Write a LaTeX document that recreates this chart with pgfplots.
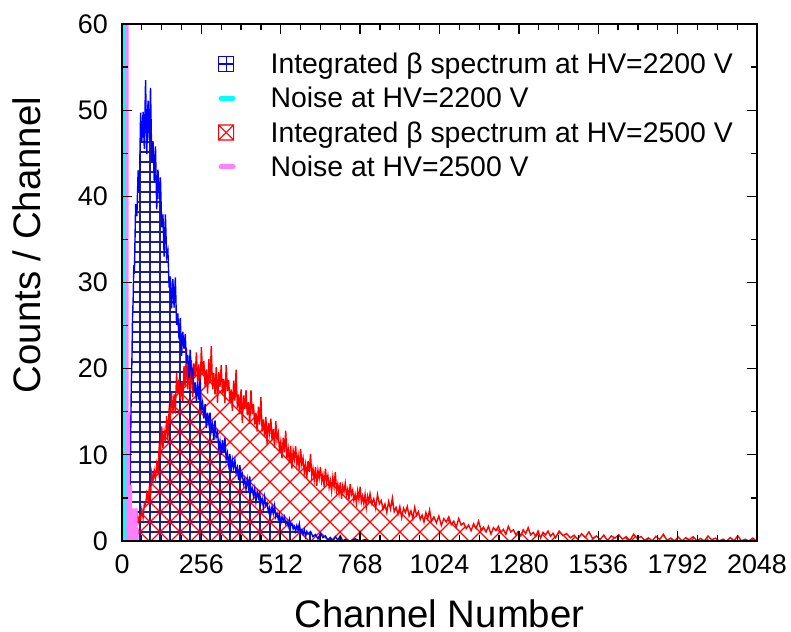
\documentclass[border=0pt]{standalone}
\usepackage{fontspec}
\setmainfont{Liberation Sans}
\usepackage{pgfplots}
\pgfplotsset{compat=1.18}
\usepackage{pgfplotstable}
\usetikzlibrary{patterns}
\definecolor{gridblue}{RGB}{30,30,140}
\definecolor{noisecyan}{RGB}{0,255,255}
\definecolor{noisepink}{RGB}{255,128,255}
\pgfdeclarepatternformonly{bgrid}{\pgfpoint{-1bp}{-1bp}}{\pgfpoint{11bp}{11bp}}{\pgfpoint{10bp}{10bp}}{%
  \pgfsetlinewidth{1.2bp}%
  \pgfpathmoveto{\pgfpoint{0bp}{0bp}}\pgfpathlineto{\pgfpoint{10.1bp}{0bp}}%
  \pgfpathmoveto{\pgfpoint{0bp}{0bp}}\pgfpathlineto{\pgfpoint{0bp}{10.1bp}}%
  \pgfusepath{stroke}}
\pgfdeclarepatternformonly{rcross}{\pgfpoint{-1bp}{-1bp}}{\pgfpoint{21bp}{21bp}}{\pgfpoint{20bp}{20bp}}{%
  \pgfsetlinewidth{1.1bp}%
  \pgfpathmoveto{\pgfpoint{0bp}{0bp}}\pgfpathlineto{\pgfpoint{20bp}{20bp}}%
  \pgfpathmoveto{\pgfpoint{0bp}{20bp}}\pgfpathlineto{\pgfpoint{20bp}{0bp}}%
  \pgfusepath{stroke}}

\pgfplotstableread{
c v
0 0
24 0
26 4
28 12
30 18
32 21
34 26
36 28
38 32
40 31
44 39.1
48 37.7
52 43.0
56 40.6
60 49.7
64 46.3
68 49.8
72 45.5
76 53.5
80 44.9
84 51.1
88 46.5
92 52.6
96 44.0
100 46.4
104 41.7
108 45.8
112 38.5
116 43.1
120 39.7
124 42.2
128 36.4
132 37.9
136 33.0
140 37.9
144 33.0
148 33.7
152 29.4
156 30.7
160 27.0
164 30.4
168 27.1
172 30.6
176 25.1
180 26.4
184 23.4
188 25.9
192 21.5
196 24.3
200 22.3
204 24.0
208 20.6
212 21.6
216 18.9
220 22.2
224 19.3
228 19.9
232 17.3
236 18.4
240 16.1
244 18.5
248 16.4
252 18.8
256 15.2
260 16.1
264 14.2
268 15.9
272 13.1
276 14.9
280 13.7
284 14.9
288 12.8
292 13.6
296 11.7
300 14.0
304 12.1
308 12.6
312 10.9
316 11.6
320 10.0
324 11.7
328 10.3
332 12.0
336 9.5
340 10.2
344 8.9
348 10.1
352 8.1
356 9.4
360 8.5
364 9.4
368 7.9
372 8.5
376 7.1
380 8.8
384 7.4
388 7.8
392 6.6
396 7.2
400 6.0
404 7.2
408 6.2
412 7.5
416 5.7
420 6.1
424 5.2
428 6.1
432 4.6
436 5.7
440 5.0
444 5.6
448 4.4
452 4.9
456 3.9
460 5.1
464 4.1
468 4.4
472 3.4
476 3.9
480 3.1
484 4.0
488 3.2
492 4.1
496 2.8
500 3.2
504 2.5
508 3.1
512 2.1
516 2.8
520 2.4
524 2.8
528 2.0
532 2.3
536 1.7
540 2.5
544 1.8
548 2.0
552 1.4
556 1.7
560 1.15
564 1.8
568 1.3
572 2.0
576 1.0
580 1.3
584 0.8
588 1.3
592 0.5
596 1.1
600 0.8
608 1.1
616 0.5
624 0.75
632 0.25
640 0.9
648 0.4
656 0.6
664 0.1
672 0.4
680 0.0
688 0.5
696 0.1
704 0.6
712 0.0
720 0.2
736 0.0
752 0.25
768 0
784 0.15
800 0
2048 0
}\bluedata

\pgfplotstableread{
c v
40 0
40 2.4
44 2.0
48 3.2
52 2.2
56 2.9
60 2.5
64 3.7
68 2.7
72 4.3
76 4.2
80 5.5
84 4.8
88 6.1
92 5.3
96 7.9
100 7.0
104 8.2
108 7.3
112 8.9
116 8.0
120 10.9
124 10.1
128 13.3
132 10.8
136 12.7
140 11.6
144 14.5
148 11.8
152 15.2
156 14.5
160 17.2
164 14.8
168 17.0
172 14.8
176 19.5
180 17.1
184 18.8
188 16.4
192 18.5
196 16.2
200 20.3
204 18.0
208 22.4
212 17.6
216 19.8
220 17.5
224 21.0
228 16.7
232 20.6
236 19.1
240 21.9
244 18.4
248 20.5
252 17.5
256 22.5
260 19.3
264 20.9
268 17.9
272 19.9
276 17.1
280 21.1
284 18.5
288 22.6
292 17.6
296 19.5
300 17.0
304 20.2
308 16.0
312 19.6
316 17.9
320 20.4
324 17.1
328 18.8
332 16.0
336 20.4
340 17.4
344 18.7
348 16.0
352 17.6
356 15.1
360 18.6
364 16.3
368 19.9
372 15.4
376 17.0
380 14.7
384 17.6
388 13.7
392 16.9
396 15.3
400 17.5
404 14.6
408 16.1
412 13.6
416 17.5
420 14.7
424 15.9
428 13.5
432 14.9
436 12.7
440 15.6
444 13.5
448 16.7
452 12.7
456 14.1
460 12.1
464 14.4
468 11.2
472 13.7
476 12.5
480 14.2
484 11.7
488 13.0
492 10.8
496 13.9
500 11.7
504 12.5
508 10.4
512 11.5
516 9.6
520 12.0
524 10.3
528 12.8
532 9.6
536 10.7
540 9.1
544 11.0
548 8.4
552 10.5
556 9.5
560 11.0
564 8.9
568 9.9
572 8.2
576 10.7
580 8.9
584 9.6
588 7.9
592 8.9
596 7.3
600 9.3
604 8.0
608 10.1
612 7.5
616 8.4
620 7.1
624 8.6
628 6.4
632 8.2
636 7.3
640 8.6
644 6.9
648 7.7
652 6.3
656 8.4
660 6.9
664 7.6
668 6.2
672 7.0
676 5.8
680 7.4
684 6.3
688 8.0
692 5.8
696 6.6
700 5.5
704 6.8
708 4.9
712 6.4
716 5.7
720 6.7
724 5.3
728 6.0
732 4.8
736 6.6
740 5.4
744 5.9
748 4.7
752 5.4
756 4.4
760 5.8
764 4.8
768 6.3
772 4.5
776 5.2
780 4.3
784 5.4
788 3.9
792 5.2
796 4.6
800 5.5
806 4.3
812 4.9
818 3.8
824 5.4
830 4.3
836 4.7
842 3.7
848 4.3
854 3.3
860 4.6
866 3.7
872 5.0
878 3.4
884 3.9
890 3.1
896 4.0
902 2.7
908 3.8
914 3.3
920 4.0
926 2.9
932 3.5
938 2.6
944 3.9
950 3.0
956 3.4
962 2.5
968 3.0
974 2.2
980 3.3
986 2.6
992 3.6
998 2.3
1006 2.8
1014 2.1
1022 2.9
1030 1.8
1038 2.6
1046 2.2
1054 2.8
1062 1.9
1070 2.3
1078 1.6
1086 2.6
1094 1.85
1102 2.1
1110 1.45
1118 1.85
1126 1.2
1134 2.0
1142 1.45
1150 2.3
1158 1.25
1166 1.6
1174 1.05
1182 1.7
1190 0.8
1198 1.55
1206 1.2
1214 1.7
1222 1.0
1230 1.35
1238 0.77
1246 1.7
1254 1.05
1262 1.3
1270 0.75
1278 1.1
1286 0.6
1294 1.3
1302 0.85
1310 1.55
1318 0.7
1326 1.0
1334 0.55
1342 1.15
1350 0.35
1358 1.0
1366 0.7
1374 1.15
1382 0.55
1390 0.9
1398 0.38
1410 1.15
1422 0.64
1434 0.86
1446 0.37
1458 0.67
1470 0.2
1482 0.84
1494 0.42
1506 1.05
1518 0.28
1530 0.59
1542 0.18
1554 0.69
1566 0.05
1578 0.59
1590 0.34
1602 0.72
1614 0.2
1626 0.5
1638 0.05
1650 0.78
1662 0.3
1674 0.52
1686 0.08
1698 0.37
1710 0.0
1722 0.55
1734 0.18
1746 0.78
1758 0.06
1770 0.34
1782 0.0
1794 0.46
1806 0.0
1818 0.38
1830 0.15
1842 0.5
1854 0.04
1866 0.3
1878 0.0
1890 0.58
1902 0.14
1914 0.34
1926 0.0
1938 0.21
1950 0.0
1962 0.39
1974 0.04
1986 0.6
1998 0.0
2010 0.21
2022 0.0
2034 0.34
2047 0.0
}\reddata

\begin{document}
\begin{tikzpicture}
\useasboundingbox (-122bp,-91bp) rectangle (669bp,541bp);
\begin{axis}[
  scale only axis,
  width=635bp, height=517bp,
  xmin=0, xmax=2048, ymin=0, ymax=60,
  xtick={0,256,...,2048},
  ytick={0,10,...,60},
  minor x tick num=3,
  minor y tick num=1,
  tick align=inside,
  major tick length=10bp,
  minor tick length=6bp,
  every tick/.style={black, line width=1.3bp},
  axis line style={black, line width=1.3bp},
  axis on top,
  /pgf/number format/assume math mode=true,
  /pgf/number format/1000 sep={},
  tick label style={font=\fontsize{27}{30}\selectfont, inner sep=0pt},
  xticklabel shift=14bp,
  yticklabel shift=14bp,
  xlabel={Channel Number},
  ylabel={Counts / Channel},
  label style={font=\fontsize{38.5}{44}\selectfont, inner sep=0pt},
  xlabel style={at={(axis description cs:0.5,-0.113)}, anchor=north},
  ylabel style={at={(axis description cs:-0.1276,0.5725)}, anchor=base, rotate=0},
  legend style={draw=none, fill=none, at={(axis description cs:0.1512,0.946)}, anchor=north west,
    inner sep=0pt, outer sep=0pt, row sep=10.2bp,
    font=\fontsize{28.5}{32}\selectfont,
    nodes={inner sep=1bp}},
  legend cell align=left,
]
% fills
\addplot[draw=none, pattern=bgrid, pattern color=gridblue, forget plot] table[x=c,y=v] {\bluedata} \closedcycle;
\addplot[draw=none, pattern=rcross, pattern color=red, forget plot] table[x=c,y=v] {\reddata} \closedcycle;
% lines
\addplot[red, line width=1.4bp, forget plot] table[x=c,y=v] {\reddata};
\addplot[blue, line width=1.4bp, forget plot] table[x=c,y=v] {\bluedata};
% noise
\addplot[draw=none, fill=noisepink, const plot, forget plot] coordinates {(7,0) (7,200) (21,15) (26,6.5) (33,3.8) (50,1.5) (54,0) (54,0)};
\addplot[draw=none, fill=noisecyan, const plot, forget plot] coordinates {(0,0) (0,200) (10,10) (14,0) (14,0)};
% legend
\addlegendimage{legend image code/.code={
  \draw[blue, line width=1.2bp] (0bp,-7.5bp) rectangle (15bp,7.5bp) (7.5bp,-7.5bp)--(7.5bp,7.5bp) (0bp,0bp)--(15bp,0bp);
  \path[draw=none] (0bp,0bp)--(51bp,0bp);}}
\addlegendentry{Integrated β spectrum at HV=2200 V}
\addlegendimage{legend image code/.code={
  \draw[noisecyan, line width=5bp, line cap=round] (2.5bp,0bp)--(14.5bp,0bp);
  \path[draw=none] (0bp,0bp)--(51bp,0bp);}}
\addlegendentry{Noise at HV=2200 V}
\addlegendimage{legend image code/.code={
  \draw[red, line width=1.2bp] (0bp,-7.5bp) rectangle (15bp,7.5bp) (0bp,-7.5bp)--(15bp,7.5bp) (0bp,7.5bp)--(15bp,-7.5bp);
  \path[draw=none] (0bp,0bp)--(51bp,0bp);}}
\addlegendentry{Integrated β spectrum at HV=2500 V}
\addlegendimage{legend image code/.code={
  \draw[noisepink, line width=5bp, line cap=round] (2.5bp,0bp)--(14.5bp,0bp);
  \path[draw=none] (0bp,0bp)--(51bp,0bp);}}
\addlegendentry{Noise at HV=2500 V}
\end{axis}
\end{tikzpicture}
\end{document}
